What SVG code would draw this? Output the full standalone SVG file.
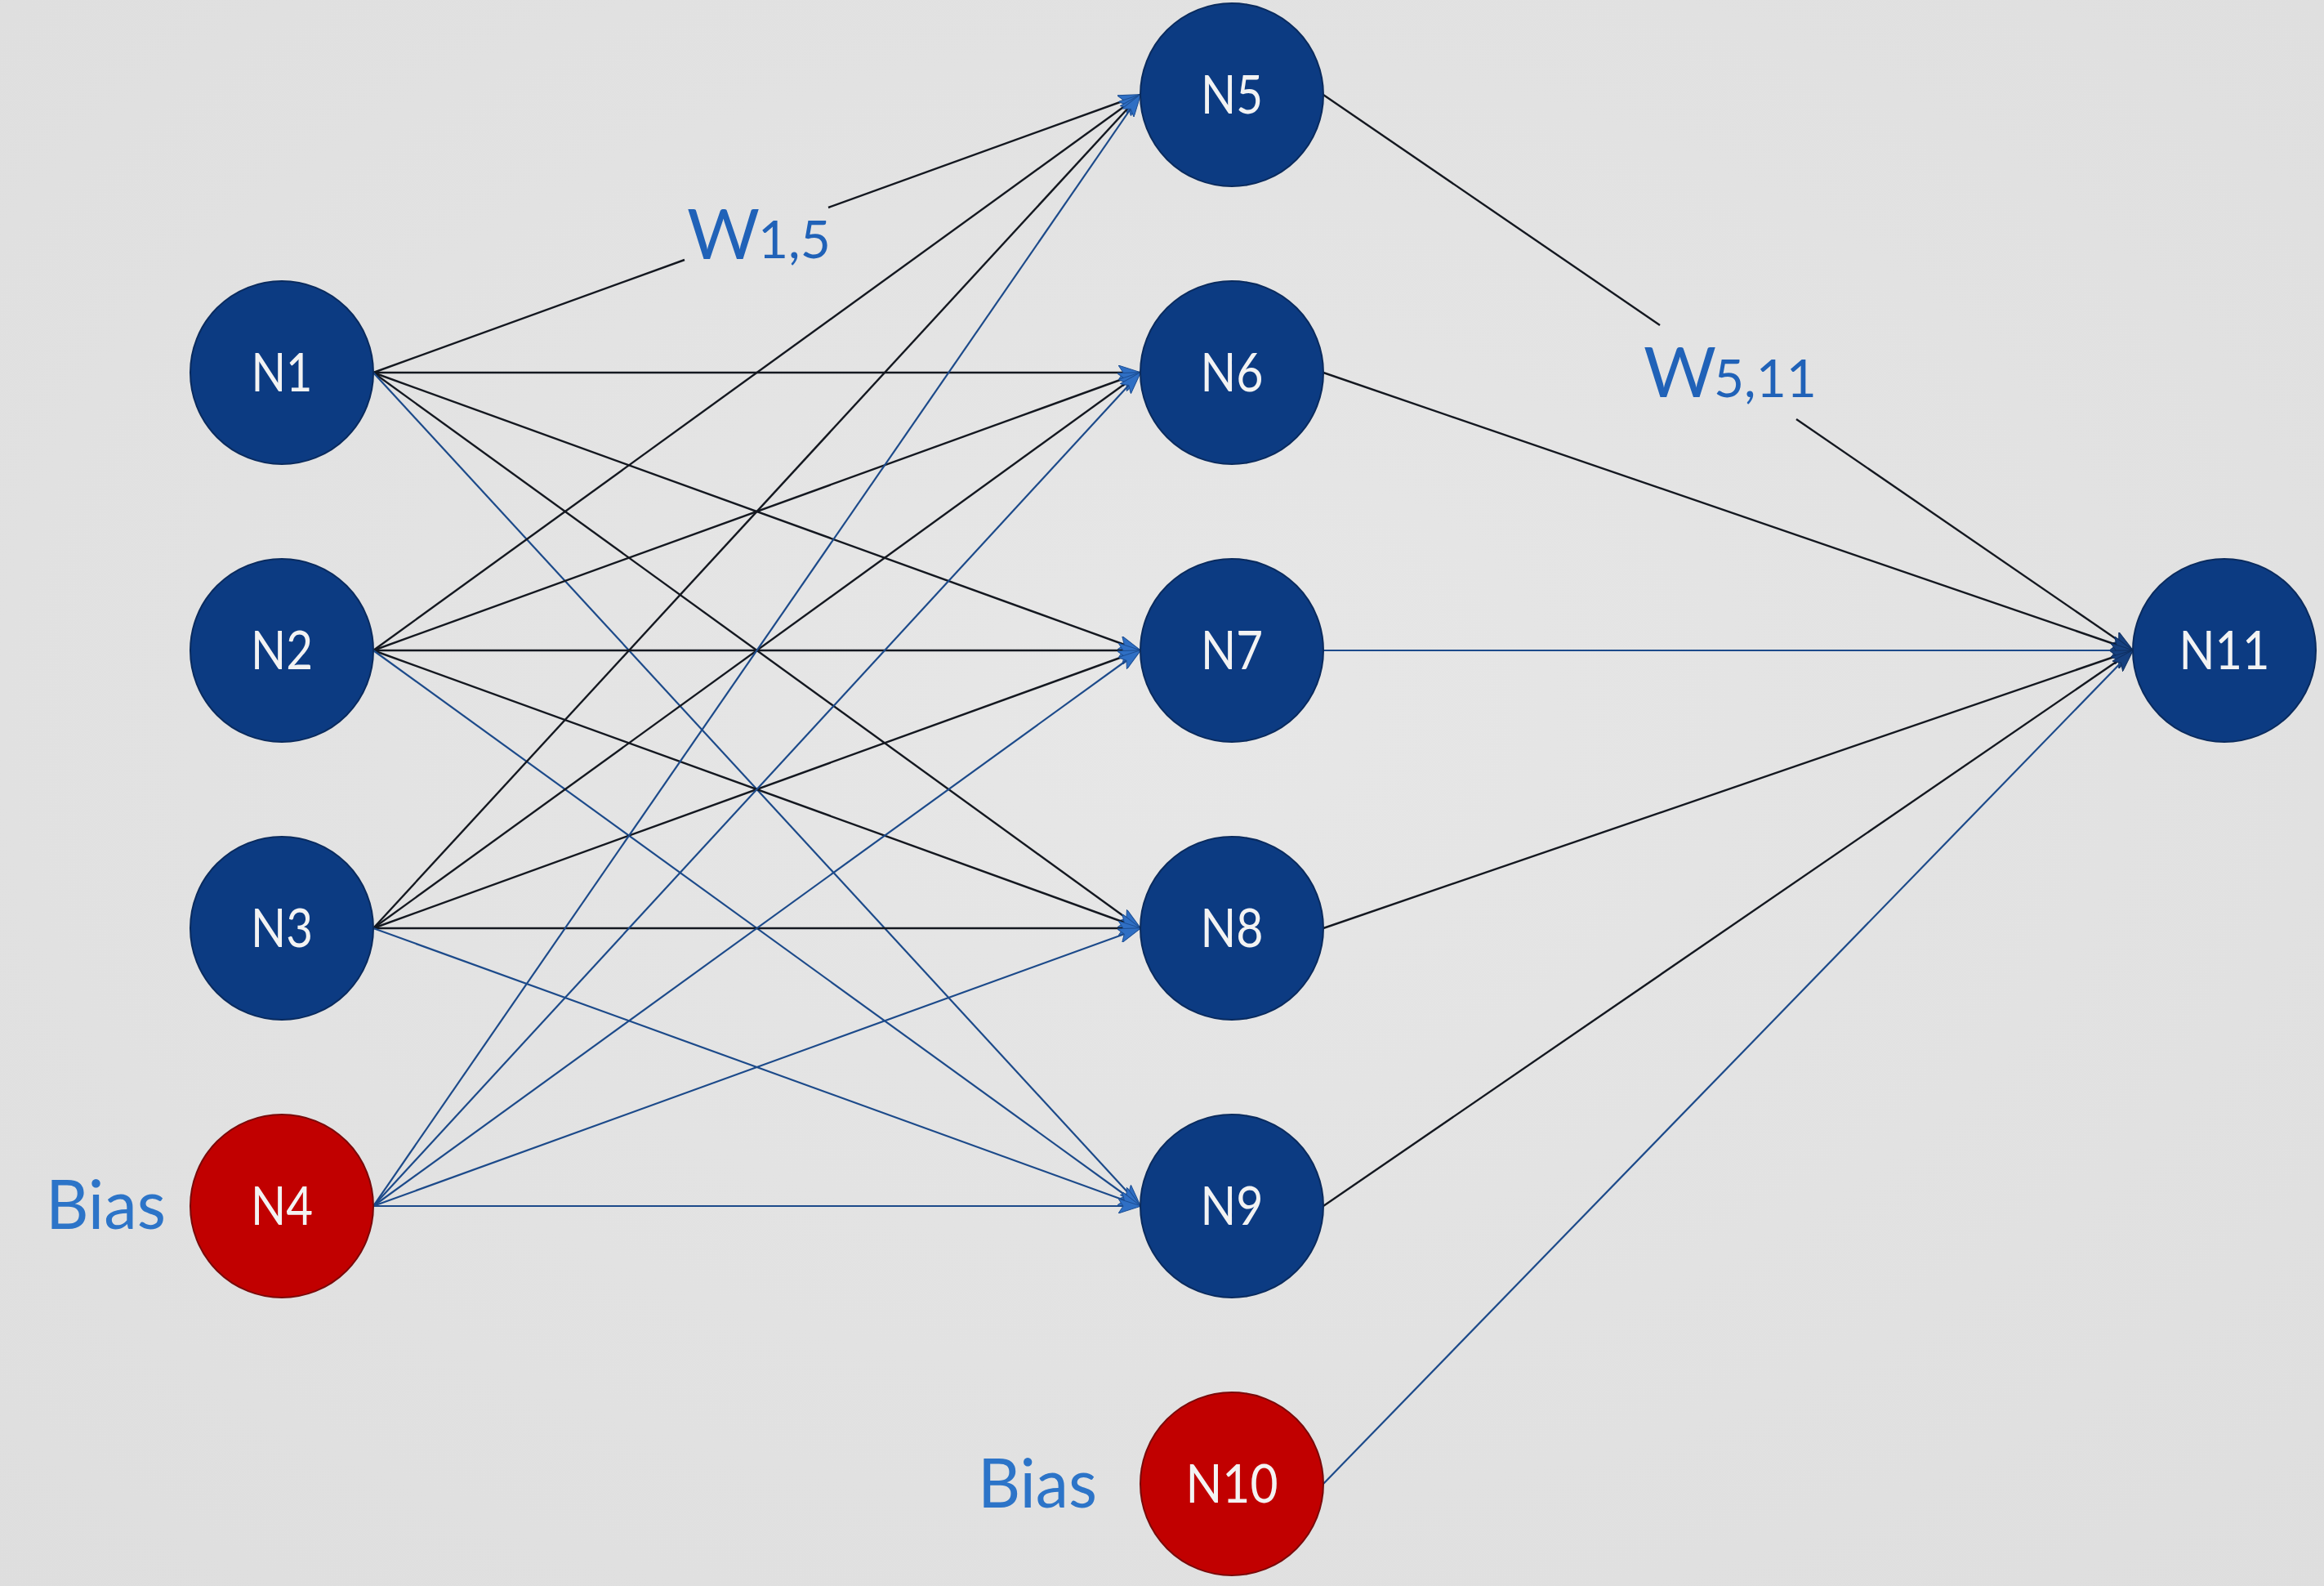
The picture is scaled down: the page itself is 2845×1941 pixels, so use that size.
<svg xmlns="http://www.w3.org/2000/svg" width="2845" height="1941" viewBox="0 0 2845 1941">
<defs>
<radialGradient id="bg" cx="50%" cy="45%" r="75%">
<stop offset="0" stop-color="#e7e7e7"/>
<stop offset="1" stop-color="#dedede"/>
</radialGradient>
<marker id="ah" viewBox="0 0 28 18" refX="27" refY="9" markerWidth="28" markerHeight="18" markerUnits="userSpaceOnUse" orient="auto">
<path d="M0,0 L28,9 L0,18 L6,9 z" fill="#2f6fc4" stroke="#1d4f94" stroke-width="1"/>
</marker>
<marker id="ahd" viewBox="0 0 28 18" refX="27" refY="9" markerWidth="28" markerHeight="18" markerUnits="userSpaceOnUse" orient="auto">
<path d="M0,0 L28,9 L0,18 L6,9 z" fill="#16407f" stroke="#0f2f60" stroke-width="1"/>
</marker>
</defs>
<style>
.dk{stroke:#141820;stroke-width:2.4;fill:none}
.bl{stroke:#1c4a8a;stroke-width:2.2;fill:none}
.m{marker-end:url(#ah)}
.md{marker-end:url(#ahd)}
.nb{fill:#0c3b82;stroke:#0a2b5e;stroke-width:2}
.nr{fill:#c10000;stroke:#7a0a0a;stroke-width:2}
.lbl{font-family:Lato,"Liberation Sans",sans-serif;font-size:65px;fill:#f3f3f3;text-anchor:middle}
.bias{font-family:Lato,"Liberation Sans",sans-serif;font-size:84px;fill:#2c74c8}
.w{font-family:Lato,"Liberation Sans",sans-serif;font-size:86px;fill:#2062b8}
.ws{font-family:Lato,"Liberation Sans",sans-serif;font-size:64px;fill:#2062b8}
</style>
<rect x="0" y="0" width="2845" height="1941" fill="url(#bg)"/>
<g id="connectors">
<!-- N1 -->
<line class="dk" x1="457" y1="456" x2="838" y2="318"/>
<line class="dk m" x1="1014" y1="254" x2="1396" y2="116"/>
<line class="dk m" x1="457" y1="456" x2="1396" y2="456"/>
<line class="dk m" x1="457" y1="456" x2="1396" y2="796"/>
<line class="dk m" x1="457" y1="456" x2="1396" y2="1136"/>
<line class="bl m" x1="457" y1="456" x2="1396" y2="1476"/>
<!-- N2 -->
<line class="dk m" x1="457" y1="796" x2="1396" y2="116"/>
<line class="dk m" x1="457" y1="796" x2="1396" y2="456"/>
<line class="dk m" x1="457" y1="796" x2="1396" y2="796"/>
<line class="dk m" x1="457" y1="796" x2="1396" y2="1136"/>
<line class="bl m" x1="457" y1="796" x2="1396" y2="1476"/>
<!-- N3 -->
<line class="dk m" x1="457" y1="1136" x2="1396" y2="116"/>
<line class="dk m" x1="457" y1="1136" x2="1396" y2="456"/>
<line class="dk m" x1="457" y1="1136" x2="1396" y2="796"/>
<line class="dk m" x1="457" y1="1136" x2="1396" y2="1136"/>
<line class="bl m" x1="457" y1="1136" x2="1396" y2="1476"/>
<!-- N4 -->
<line class="bl m" x1="457" y1="1476" x2="1396" y2="116"/>
<line class="bl m" x1="457" y1="1476" x2="1396" y2="456"/>
<line class="bl m" x1="457" y1="1476" x2="1396" y2="796"/>
<line class="bl m" x1="457" y1="1476" x2="1396" y2="1136"/>
<line class="bl m" x1="457" y1="1476" x2="1396" y2="1476"/>
<!-- hidden to output -->
<line class="dk" x1="1620" y1="116" x2="2032" y2="398"/>
<line class="dk md" x1="2199" y1="513" x2="2611" y2="796"/>
<line class="dk md" x1="1620" y1="456" x2="2611" y2="796"/>
<line class="bl md" x1="1620" y1="796" x2="2611" y2="796"/>
<line class="dk md" x1="1620" y1="1136" x2="2611" y2="796"/>
<line class="dk md" x1="1620" y1="1476" x2="2611" y2="796"/>
<line class="bl md" x1="1620" y1="1816" x2="2611" y2="796"/>
</g>
<g id="N1"><circle class="nb" cx="345" cy="456" r="112"/><text class="lbl" x="345" y="479" textLength="75" lengthAdjust="spacingAndGlyphs">N1</text></g>
<g id="N2"><circle class="nb" cx="345" cy="796" r="112"/><text class="lbl" x="345" y="819" textLength="76" lengthAdjust="spacingAndGlyphs">N2</text></g>
<g id="N3"><circle class="nb" cx="345" cy="1136" r="112"/><text class="lbl" x="345" y="1159" textLength="76" lengthAdjust="spacingAndGlyphs">N3</text></g>
<g id="N4"><circle class="nr" cx="345" cy="1476" r="112"/><text class="lbl" x="345" y="1499" textLength="76" lengthAdjust="spacingAndGlyphs">N4</text></g>
<g id="N5"><circle class="nb" cx="1508" cy="116" r="112"/><text class="lbl" x="1508" y="139" textLength="76" lengthAdjust="spacingAndGlyphs">N5</text></g>
<g id="N6"><circle class="nb" cx="1508" cy="456" r="112"/><text class="lbl" x="1508" y="479" textLength="77" lengthAdjust="spacingAndGlyphs">N6</text></g>
<g id="N7"><circle class="nb" cx="1508" cy="796" r="112"/><text class="lbl" x="1508" y="819" textLength="76" lengthAdjust="spacingAndGlyphs">N7</text></g>
<g id="N8"><circle class="nb" cx="1508" cy="1136" r="112"/><text class="lbl" x="1508" y="1159" textLength="77" lengthAdjust="spacingAndGlyphs">N8</text></g>
<g id="N9"><circle class="nb" cx="1508" cy="1476" r="112"/><text class="lbl" x="1508" y="1499" textLength="77" lengthAdjust="spacingAndGlyphs">N9</text></g>
<g id="N10"><circle class="nr" cx="1508" cy="1816" r="112"/><text class="lbl" x="1508" y="1839" textLength="113" lengthAdjust="spacingAndGlyphs">N10</text></g>
<g id="N11"><circle class="nb" cx="2723" cy="796" r="112"/><text class="lbl" x="2723" y="819" textLength="111" lengthAdjust="spacingAndGlyphs">N11</text></g>
<g id="labels">
<text class="bias" x="56" y="1504" textLength="147" lengthAdjust="spacingAndGlyphs">Bias</text>
<text class="bias" x="1197" y="1845" textLength="146" lengthAdjust="spacingAndGlyphs">Bias</text>
<text x="841" y="317"><tspan class="w">W</tspan><tspan class="ws" x="928" y="316">1,5</tspan></text>
<text x="2012" y="486"><tspan class="w">W</tspan><tspan class="ws" x="2098" y="486">5,11</tspan></text>
</g>
</svg>
